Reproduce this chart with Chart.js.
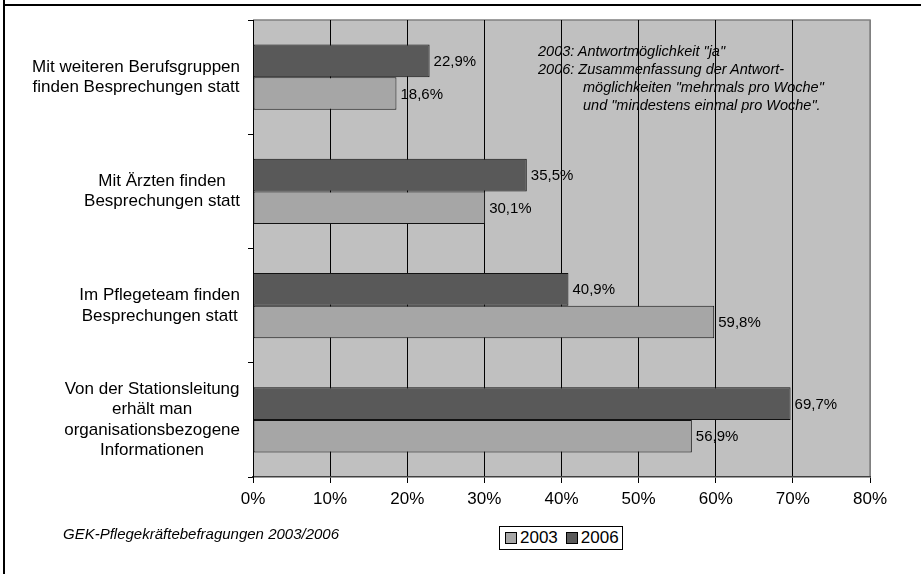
<!DOCTYPE html>
<html>
<head>
<meta charset="utf-8">
<script src="https://cdn.jsdelivr.net/npm/chart.js@4/dist/chart.umd.min.js"></script>
<style>
  body { margin: 0; background: #fff; }
  #wrap { position: relative; width: 921px; height: 574px; overflow: hidden; font-family: "Liberation Sans", Arial, sans-serif; }
  #c { position: absolute; left: 0; top: 0; }
  .frameTop { position: absolute; left: 3px; top: 4px; width: 918px; height: 2px; background: #000; }
  .frameLeft { position: absolute; left: 3px; top: 0; width: 2px; height: 574px; background: #000; }
  .note { position: absolute; left: 538px; top: 42px; font-style: italic; font-size: 14.5px; line-height: 18px; color: #000; white-space: nowrap; }
  .note .ind { padding-left: 45px; }
  .source { position: absolute; left: 63px; top: 525px; font-style: italic; font-size: 15px; color: #000; white-space: nowrap; }
  .legend { position: absolute; left: 499px; top: 526px; width: 122px; height: 22px; border: 1px solid #000; background: #fff;
            display: flex; align-items: center; font-size: 17px; }
  .legend .sq { display: inline-block; width: 10px; height: 10px; border: 1px solid #000; margin: 0 3px 0 5px; }
</style>
</head>
<body>
<div id="wrap">
  <canvas id="c" width="921" height="574"></canvas>
  <div class="frameTop"></div>
  <div class="frameLeft"></div>
  <div class="note">
    <div>2003: Antwortmöglichkeit "ja"</div>
    <div>2006: Zusammenfassung der Antwort-</div>
    <div class="ind">möglichkeiten "mehrmals pro Woche"</div>
    <div class="ind">und "mindestens einmal pro Woche".</div>
  </div>
  <div class="source">GEK-Pflegekräftebefragungen 2003/2006</div>
  <div class="legend">
    <span class="sq" style="background:#a6a6a6"></span><span>2003</span>
    <span class="sq" style="background:#595959;margin-left:8px"></span><span>2006</span>
  </div>
</div>
<script>
// Kategorien (mehrzeilig wie im Original)
const categories = [
    ["Mit weiteren Berufsgruppen", "finden Besprechungen statt"],
    ["Mit Ärzten finden", "Besprechungen statt"],
    ["Im Pflegeteam finden", "Besprechungen statt"],
    ["Von der Stationsleitung", "erhält man", "organisationsbezogene", "Informationen"]
];

// Werte in Prozent
const values2006 = [22.9, 35.5, 40.9, 69.7];
const values2003 = [18.6, 30.1, 59.8, 56.9];

// Achse
const xTicks = [0, 10, 20, 30, 40, 50, 60, 70, 80];

const COLOR_2003 = '#a6a6a6';
const COLOR_2006 = '#595959';
const FONT = '"Liberation Sans", Arial, sans-serif';

// Hintergrund und Rahmen der Zeichenfläche
const plotBackground = {
    id: 'plotBackground',
    beforeDraw(chart) {
        const { ctx, chartArea: a } = chart;
        ctx.save();
        ctx.fillStyle = '#c0c0c0';
        ctx.fillRect(a.left, a.top, a.right - a.left, a.bottom - a.top);
        ctx.strokeStyle = '#808080';
        ctx.lineWidth = 1.5;
        ctx.beginPath();
        ctx.moveTo(a.left, a.top);
        ctx.lineTo(a.right, a.top);
        ctx.lineTo(a.right, a.bottom);
        ctx.stroke();
        ctx.restore();
    }
};

// Kategoriebeschriftung: Block rechtsbündig, Zeilen darin zentriert
const categoryLabels = {
    id: 'categoryLabels',
    afterDraw(chart) {
        const { ctx } = chart;
        const yScale = chart.scales.y;
        const right = yScale.right - 13;
        const lineH = 20.5;
        ctx.save();
        ctx.font = '17px ' + FONT;
        ctx.fillStyle = '#000';
        ctx.textAlign = 'center';
        ctx.textBaseline = 'middle';
        categories.forEach((lines, i) => {
            const yc = yScale.getPixelForValue(i);
            const w = Math.max(...lines.map(l => ctx.measureText(l).width));
            const cx = right - w / 2;
            const y0 = yc - (lines.length - 1) * lineH / 2;
            lines.forEach((l, j) => ctx.fillText(l, cx, y0 + j * lineH));
        });
        ctx.restore();
    }
};

// Wertbeschriftung rechts neben den Balken
const valueLabels = {
    id: 'valueLabels',
    afterDatasetsDraw(chart) {
        const { ctx } = chart;
        ctx.save();
        ctx.font = '15px ' + FONT;
        ctx.fillStyle = '#000';
        ctx.textAlign = 'left';
        ctx.textBaseline = 'middle';
        chart.data.datasets.forEach((ds, di) => {
            chart.getDatasetMeta(di).data.forEach((el, i) => {
                ctx.fillText(ds.data[i].toFixed(1).replace('.', ',') + '%', el.x + 4, el.y + 1);
            });
        });
        ctx.restore();
    }
};

new Chart(document.getElementById('c'), {
    type: 'bar',
    data: {
        labels: categories,
        datasets: [
            { label: '2006', data: values2006, backgroundColor: COLOR_2006, borderColor: '#111', borderWidth: 1, borderSkipped: false },
            { label: '2003', data: values2003, backgroundColor: COLOR_2003, borderColor: '#111', borderWidth: 1, borderSkipped: false }
        ]
    },
    options: {
        indexAxis: 'y',
        responsive: false,
        animation: false,
        layout: { padding: { top: 20, right: 51, left: 0, bottom: 0 } },
        datasets: { bar: { barPercentage: 1.0, categoryPercentage: 0.57 } },
        plugins: { legend: { display: false }, tooltip: { enabled: false } },
        scales: {
            x: {
                min: 0,
                max: 80,
                afterBuildTicks(scale) { scale.ticks = xTicks.map(v => ({ value: v })); },
                afterFit(scale) { scale.height = 97; },
                ticks: {
                    font: { family: FONT, size: 17 },
                    color: '#000',
                    padding: 6,
                    callback: v => v + '%'
                },
                grid: {
                    color: ctx => ctx.index === 0 ? 'rgba(0,0,0,0)' : (ctx.index === xTicks.length - 1 ? '#808080' : '#000'),
                    tickColor: '#000',
                    tickLength: 6,
                    lineWidth: 1
                },
                border: { color: '#404040', width: 1.5 }
            },
            y: {
                afterFit(scale) { scale.width = 253; },
                ticks: { display: false },
                grid: { drawOnChartArea: false, drawTicks: true, tickLength: 5, color: '#000', offset: true },
                border: { color: '#000', width: 1 }
            }
        }
    },
    plugins: [plotBackground, categoryLabels, valueLabels]
});
</script>
</body>
</html>
